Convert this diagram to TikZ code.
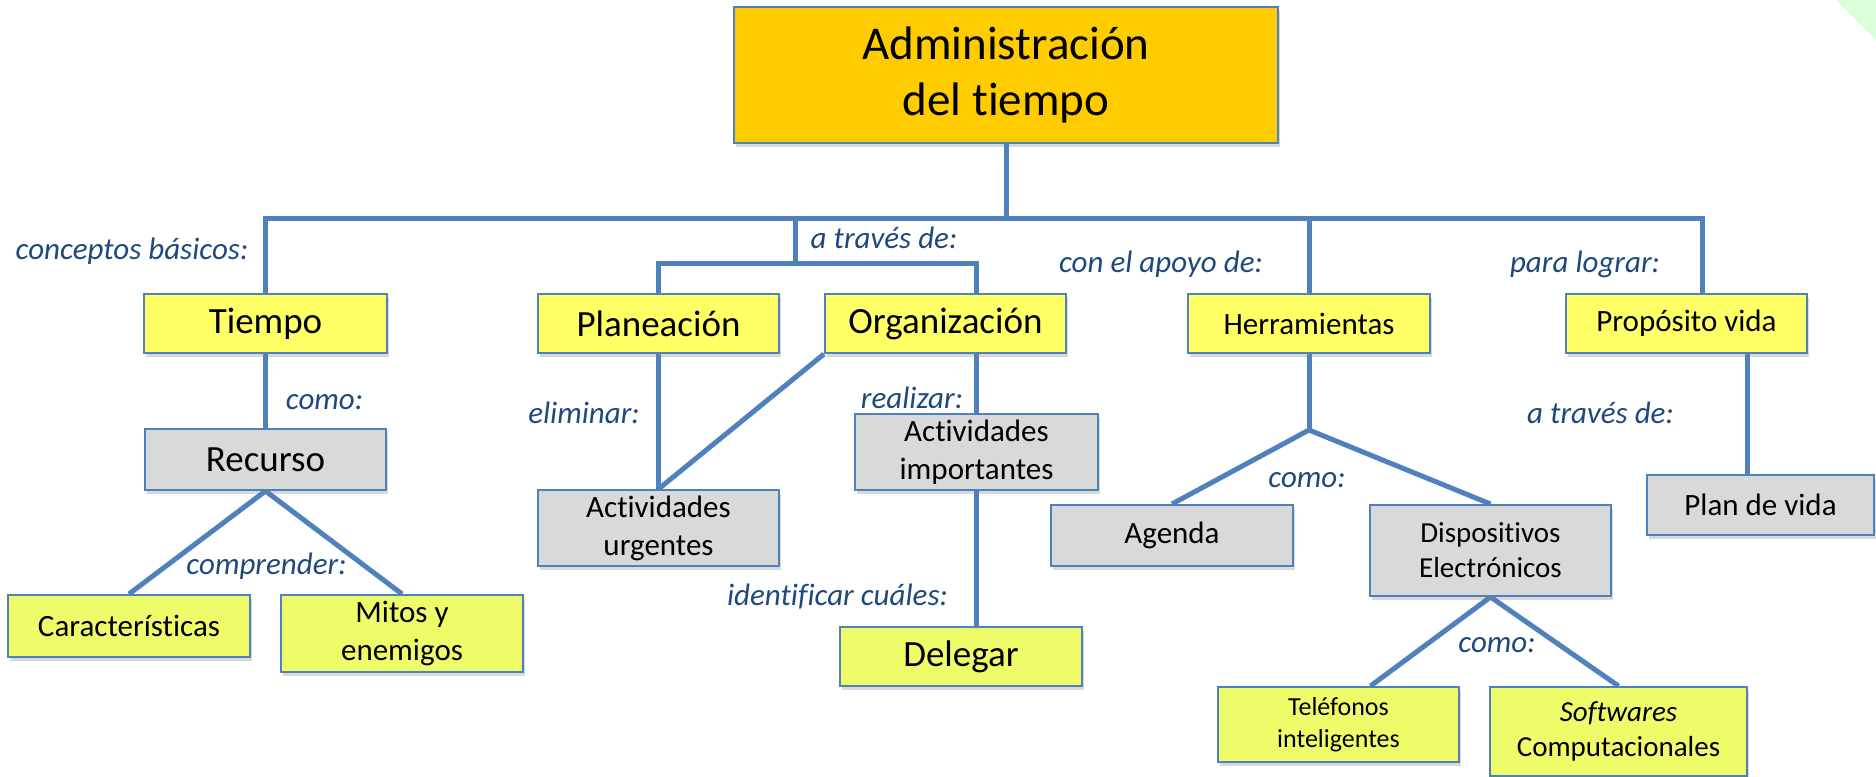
\documentclass[tikz,border=0pt]{standalone}
\usepackage{fontspec}
\setmainfont{Carlito}[Ligatures=NoCommon]
\usetikzlibrary{backgrounds,shadows}
\definecolor{linkblue}{HTML}{4F81BD}
\definecolor{verbblue}{HTML}{1F497D}
\definecolor{gold}{HTML}{FFCC00}
\definecolor{lemon}{HTML}{FFFF66}
\definecolor{limey}{HTML}{EEFC6A}
\definecolor{pale}{HTML}{D9D9D9}

\begin{document}
\begin{tikzpicture}[x=0.5pt, y=-0.5pt,
  every node/.style={inner sep=0pt, align=center},
  box/.style={rectangle, draw=linkblue, line width=1pt,
    drop shadow={opacity=0.3, shadow xshift=1pt, shadow yshift=-2pt}},
  dim/.style 2 args={minimum width=#1*0.5pt, minimum height=#2*0.5pt},
  boxgold/.style={box, fill=gold, font=\fontsize{23.5}{28}\selectfont},
  boxyellow/.style={box, fill=lemon},
  boxlime/.style={box, fill=limey},
  boxgrey/.style={box, fill=pale},
  txtL/.style={font=\fontsize{18.5}{22}\selectfont},
  txtM/.style={font=\fontsize{15.5}{19}\selectfont},
  txtS/.style={font=\fontsize{14.5}{17.5}\selectfont},
  txtXS/.style={font=\fontsize{13}{16}\selectfont},
  verb/.style={anchor=base, text=verbblue, font=\itshape\fontsize{15.5}{19}\selectfont},
  link/.style={draw=linkblue, line width=2.5pt}]
\useasboundingbox (0,0) rectangle (1876,777);
\fill[green!15] (1836,0) -- (1876,0) -- (1876,40) -- cycle;

\node[boxgold, dim={544}{136}] (admin) at (1006,75) {Administración\\del tiempo};

\node[boxyellow, txtL, dim={243}{59}] (tiempo) at (265.5,323.5) {Tiempo};
\node[boxyellow, txtL, dim={241}{59}] (planeacion) at (658.5,323.5) {Planeación};
\node[boxyellow, txtL, dim={241}{59}] (organizacion) at (945.5,323.5) {Organización};
\node[boxyellow, txtM, dim={242}{59}] (herramientas) at (1309,323.5) {Herramientas};
\node[boxyellow, txtM, dim={241}{59}] (proposito) at (1686.5,323.5) {Propósito vida};

\node[boxgrey, txtL, dim={241}{61}] (recurso) at (265.5,459.5) {Recurso};
\node[boxlime, txtM, dim={242}{62}] (caracteristicas) at (129,626) {Características};
\node[boxlime, txtM, dim={242}{77}] (mitos) at (402,633.5) {Mitos y\\enemigos};

\node[boxgrey, txtM, dim={241}{76}] (urgentes) at (658.5,528) {Actividades\\urgentes};
\node[boxgrey, txtM, dim={243}{76}] (importantes) at (976.5,452) {Actividades\\importantes};
\node[boxlime, txtL, dim={242}{59}] (delegar) at (961,656.5) {Delegar};

\node[boxgrey, txtM, dim={242}{61}] (agenda) at (1172,535.5) {Agenda};
\node[boxgrey, txtS, dim={241}{91}] (dispositivos) at (1490.5,550.5) {Dispositivos\\Electrónicos};
\node[boxlime, txtXS, dim={241}{75}] (telefonos) at (1338.5,724.5) {Teléfonos\\inteligentes};
\node[boxlime, txtS, dim={257}{89}] (softwares) at (1618.5,731.5) {{\itshape Softwares}\\Computacionales};

\node[boxgrey, txtM, dim={227}{60}] (planvida) at (1760.5,505) {Plan de vida};

\node[verb] (vbasicos) at (132,259) {conceptos básicos:};
\node[verb] (vtraves) at (884,248) {a través de:};
\node[verb] (vapoyo) at (1161,272) {con el apoyo de:};
\node[verb] (vlograr) at (1585,272) {para lograr:};
\node[verb] (vcomo) at (324.5,409) {como:};
\node[verb] (veliminar) at (584,423) {eliminar:};
\node[verb] (vrealizar) at (912,408) {realizar:};
\node[verb] (vcomprender) at (266.5,574) {comprender:};
\node[verb] (videntificar) at (837.5,605) {identificar cuáles:};
\node[verb] (vcomoh) at (1307,487) {como:};
\node[verb] (vtravesp) at (1600.5,423) {a través de:};
\node[verb] (vcomod) at (1497,652) {como:};

\coordinate (bar) at (0,218);
\coordinate (barend) at (1702,218);
\coordinate (sub) at (795,263);
\coordinate (subend) at (976,263);
\coordinate (hj) at (1309,430);
\coordinate (pj) at (1747,0);

\begin{scope}[on background layer]
  \draw[link] (admin.south) -- (admin.south |- bar);
  \draw[link] (tiempo.north) -- (tiempo.north |- bar) -- (barend) -- (barend |- proposito.north);
  \draw[link] (herramientas.north) -- (herramientas.north |- bar);
  \draw[link] (sub |- bar) -- (sub);
  \draw[link] (planeacion.north) |- (subend) -- (subend |- organizacion.north);
  \draw[link] (tiempo.south) -- (recurso.north);
  \draw[link] (caracteristicas.north) -- (recurso.south) -- (mitos.north);
  \draw[link] (planeacion.south) -- (urgentes.north);
  \draw[link] (organizacion.south west) -- (urgentes.north);
  \draw[link] (importantes.north |- organizacion.south) -- (importantes.north);
  \draw[link] (importantes.south) -- (importantes.south |- delegar.north);
  \draw[link] (herramientas.south) -- (hj);
  \draw[link] (agenda.north) -- (hj) -- (dispositivos.north);
  \draw[link] ([xshift=16pt]telefonos.north) -- (dispositivos.south) -- (softwares.north);
  \draw[link] (pj |- proposito.south) -- (pj |- planvida.north);
\end{scope}
\end{tikzpicture}
\end{document}
